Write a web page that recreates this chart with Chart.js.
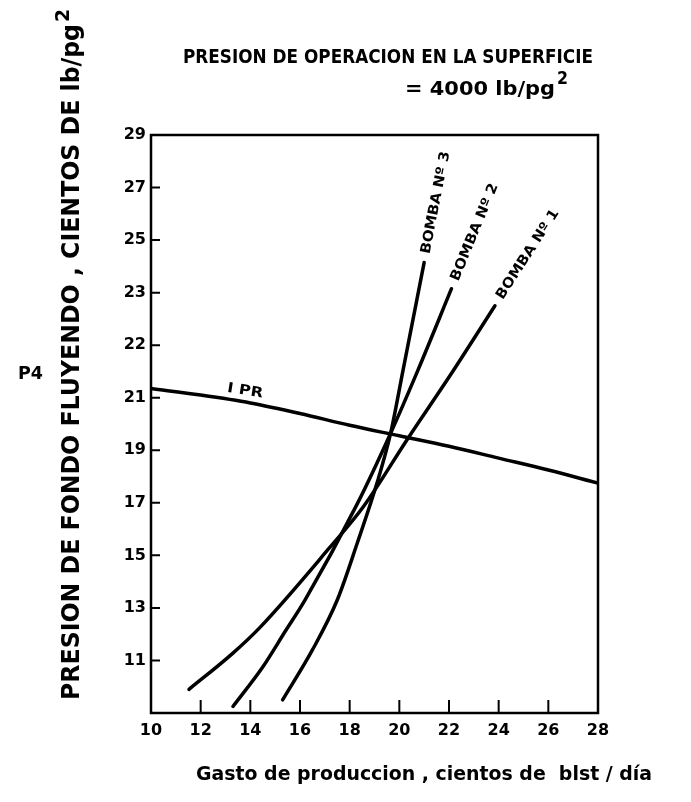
<!DOCTYPE html>
<html>
<head>
<meta charset="utf-8">
<script src="https://cdn.jsdelivr.net/npm/chart.js@4.4.0/dist/chart.umd.min.js"></script>
<style>
body{margin:0;background:#fff;}
#wrap{width:691px;height:802px;}
</style>
</head>
<body>
<div id="wrap"><canvas id="chart" width="691" height="802"></canvas></div>
<script>
// gasto de produccion (cientos de blst/dia)
const xTicks=[10,12,14,16,18,20,22,24,26,28];
// the y scale is evenly spaced but the printed labels skip around
const yTickValues=[11,13,15,17,19,21,23,25,27,29,31];
const yTickLabels=['11','13','15','17','19','21','22','23','25','27','29'];

const iprX=[10,12,14,16,18,20,22,24,26,28];
const iprY=[21.35,21.1,20.8,20.4,19.95,19.55,19.15,18.7,18.25,17.75];

const bomba1X=[11.53,13.3,14.4,17.2,18.55,20.35,22.15,23.85];
const bomba1Y=[9.9,11.28,12.27,15.3,16.85,19.46,22.0,24.5];

const bomba2X=[13.3,14.5,15.4,16.2,18.3,19.65,20.75,22.1];
const bomba2Y=[9.25,10.75,12.1,13.3,16.95,19.65,22.05,25.15];

const bomba3X=[15.3,16.5,17.5,18.3,19.1,19.65,20.15,21.0];
const bomba3Y=[9.5,11.4,13.3,15.45,17.75,19.65,22.05,26.15];

const bombaNames=['BOMBA Nº 1','BOMBA Nº 2','BOMBA Nº 3'];

const pts=(xs,ys)=>xs.map((x,i)=>({x:x,y:ys[i]}));
const FONT='"DejaVu Sans"';

const serie=(label,xs,ys)=>({
    label:label,
    data:pts(xs,ys),
    borderColor:'#000',
    borderWidth:3.5,
    borderCapStyle:'round',
    pointRadius:0,
    cubicInterpolationMode:'monotone',
    fill:false
});

// draws text squeezed/stretched to a given width
function fitText(ctx,txt,x,y,w,size,angle){
    ctx.save();
    ctx.translate(x,y);
    ctx.rotate(angle||0);
    ctx.font='bold '+size+'px '+FONT;
    const m=ctx.measureText(txt).width;
    ctx.scale(w/m,1);
    ctx.textAlign='left';
    ctx.textBaseline='middle';
    ctx.fillStyle='#000';
    ctx.fillText(txt,0,0);
    ctx.restore();
}

const overlay={
    id:'overlay',
    afterDraw:(chart)=>{
        const ctx=chart.ctx, a=chart.chartArea;
        const xs=chart.scales.x, ys=chart.scales.y;
        ctx.save();
        ctx.strokeStyle='#000';
        ctx.lineWidth=2.5;
        ctx.strokeRect(a.left,a.top,a.right-a.left,a.bottom-a.top);
        // tick marks point into the plot
        ctx.lineWidth=2;
        ctx.beginPath();
        xTicks.forEach(v=>{
            const px=xs.getPixelForValue(v);
            ctx.moveTo(px,a.bottom);ctx.lineTo(px,a.bottom-13);
        });
        yTickValues.forEach(v=>{
            const py=ys.getPixelForValue(v);
            ctx.moveTo(a.left,py);ctx.lineTo(a.left+9,py);
        });
        ctx.stroke();
        ctx.restore();

        // titles
        fitText(ctx,'PRESION DE OPERACION EN LA SUPERFICIE',183,58,410,20);
        fitText(ctx,'= 4000 lb/pg',405,90,150,20);
        fitText(ctx,'2',557,80,11,17);
        fitText(ctx,'PRESION DE FONDO FLUYENDO , CIENTOS DE lb/pg',72,700,676,25,-Math.PI/2);
        fitText(ctx,'2',64,22,13,20,-Math.PI/2);
        fitText(ctx,'P4',18,375,25,17);
        fitText(ctx,'Gasto de produccion , cientos de  blst / día',196,775,456,19);

        // IPR label along its line
        const ipr=chart.getDatasetMeta(0).data;
        const p1=ipr[1], p2=ipr[2];
        const ang=Math.atan2(p2.y-p1.y,p2.x-p1.x);
        ctx.save();
        ctx.translate((p1.x+p2.x)/2,(p1.y+p2.y)/2);
        ctx.rotate(ang);
        fitText(ctx,'I PR',0,-11,36,14);
        ctx.restore();

        // pump labels continue past the end of each curve
        for(let i=1;i<=3;i++){
            const d=chart.getDatasetMeta(i).data;
            const e=d[d.length-1], b=d[d.length-2];
            const t=Math.atan2(e.y-b.y,e.x-b.x);
            const gx=e.x+Math.cos(t)*9, gy=e.y+Math.sin(t)*9;
            fitText(ctx,bombaNames[i-1],gx,gy,104,14,t);
        }
    }
};

new Chart(document.getElementById('chart'),{
    type:'line',
    data:{
        datasets:[
            serie('IPR',iprX,iprY),
            serie(bombaNames[0],bomba1X,bomba1Y),
            serie(bombaNames[1],bomba2X,bomba2Y),
            serie(bombaNames[2],bomba3X,bomba3Y)
        ]
    },
    options:{
        responsive:false,
        animation:false,
        layout:{padding:{left:0,right:93,top:135,bottom:59}},
        plugins:{legend:{display:false},tooltip:{enabled:false},title:{display:false}},
        scales:{
            x:{
                type:'linear',min:10,max:28,
                afterBuildTicks:(s)=>{s.ticks=xTicks.map(v=>({value:v}));},
                afterFit:(s)=>{s.height=30;},
                grid:{display:false,drawTicks:false},
                border:{display:false},
                ticks:{color:'#000',padding:8,maxRotation:0,autoSkip:false,
                    font:{family:FONT,weight:'bold',size:16}}
            },
            y:{
                type:'linear',min:9,max:31,
                afterBuildTicks:(s)=>{s.ticks=yTickValues.map(v=>({value:v}));},
                afterFit:(s)=>{s.width=151;},
                grid:{display:false,drawTicks:false},
                border:{display:false},
                ticks:{color:'#000',padding:5,autoSkip:false,
                    callback:(v,i)=>yTickLabels[i],
                    font:{family:FONT,weight:'bold',size:16}}
            }
        }
    },
    plugins:[overlay]
});
</script>
</body>
</html>
